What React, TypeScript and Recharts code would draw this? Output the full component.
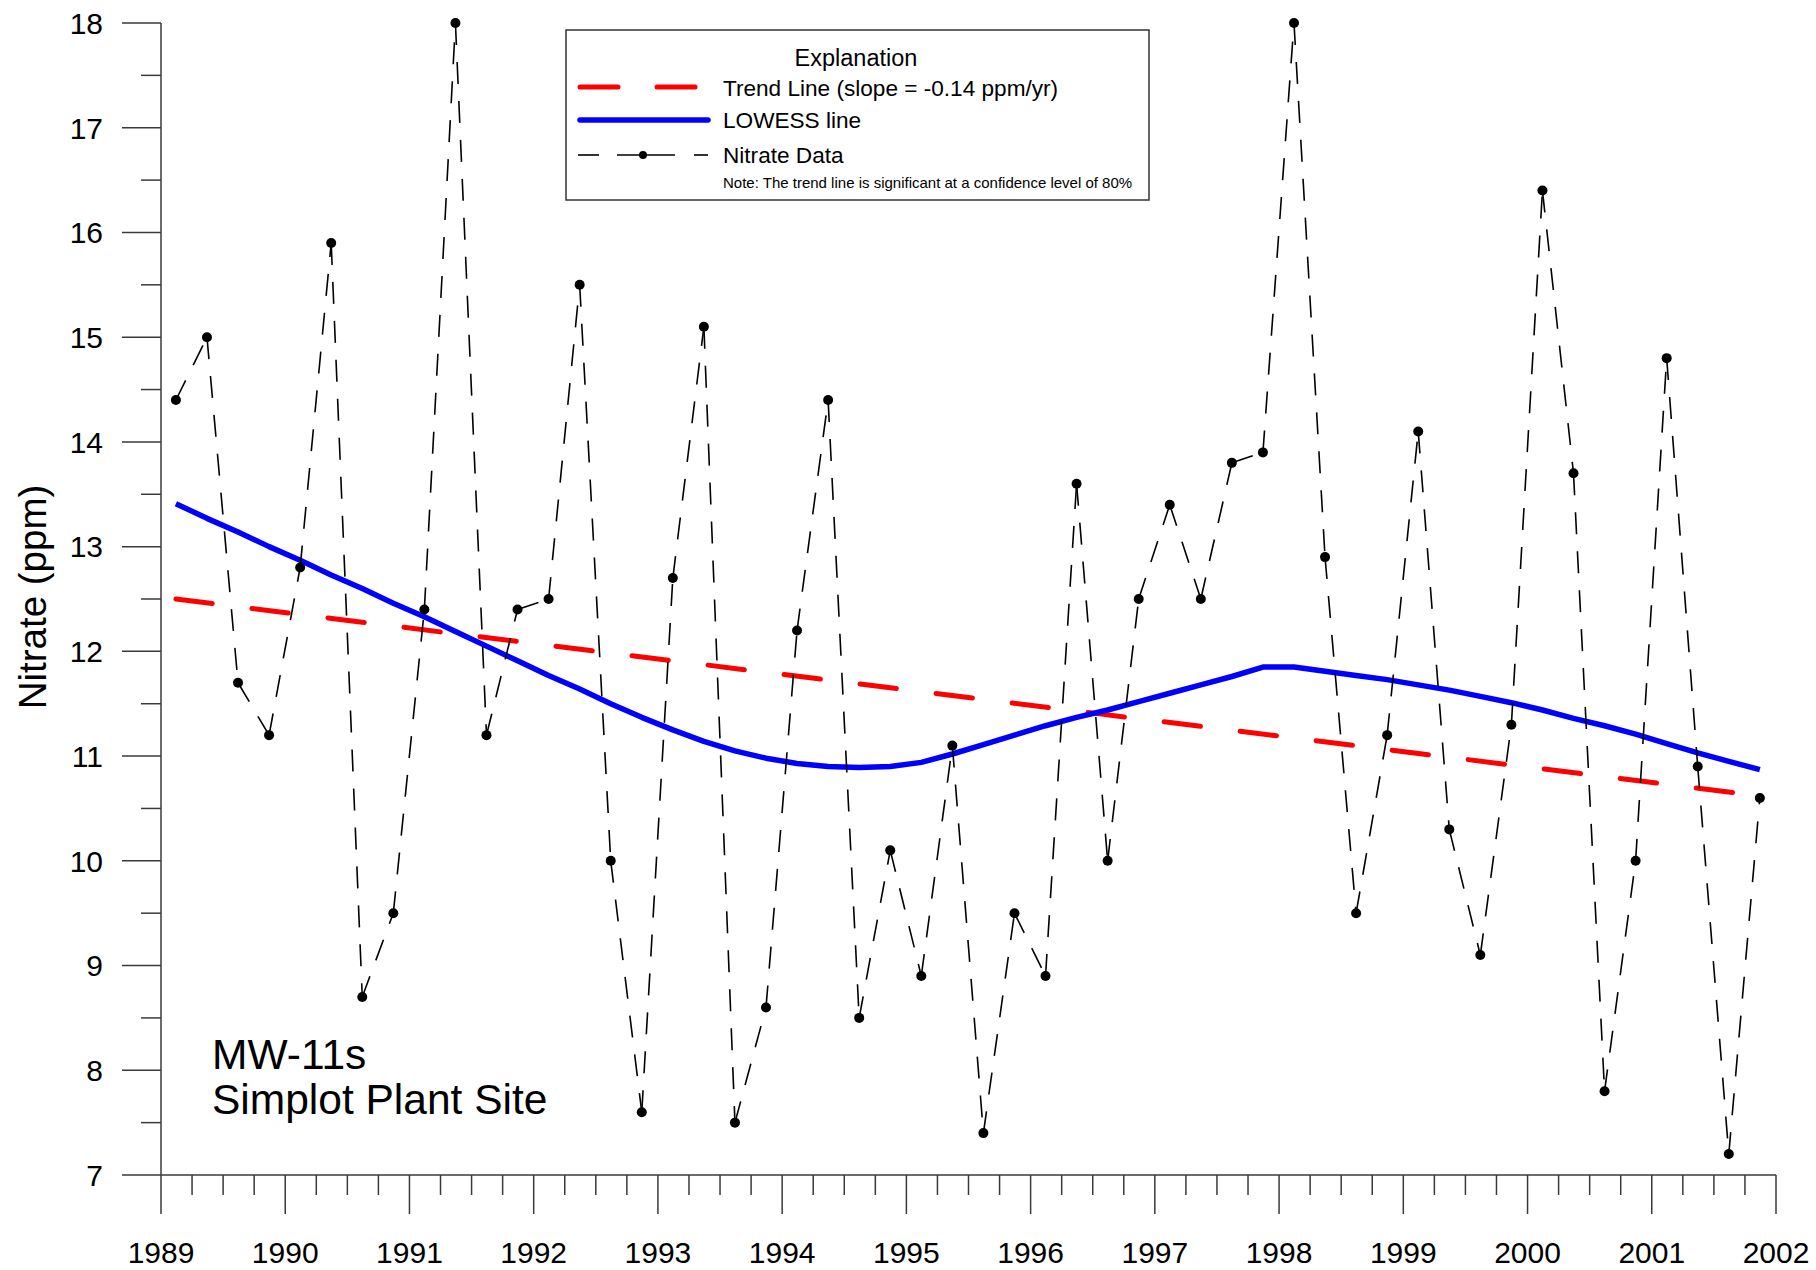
import React from 'react';
import { ComposedChart, Line, XAxis, YAxis } from 'recharts';

// sample dates (decimal years)
const dates = [
  1989.12, 1989.37, 1989.62, 1989.87, 1990.12, 1990.37, 1990.62, 1990.87,
  1991.12, 1991.37, 1991.62, 1991.87, 1992.12, 1992.37, 1992.62, 1992.87,
  1993.12, 1993.37, 1993.62, 1993.87, 1994.12, 1994.37, 1994.62, 1994.87,
  1995.12, 1995.37, 1995.62, 1995.87, 1996.12, 1996.37, 1996.62, 1996.87,
  1997.12, 1997.37, 1997.62, 1997.87, 1998.12, 1998.37, 1998.62, 1998.87,
  1999.12, 1999.37, 1999.62, 1999.87, 2000.12, 2000.37, 2000.62, 2000.87,
  2001.12, 2001.37, 2001.62, 2001.87,
];

const nitrate = [
  14.4, 15.0, 11.7, 11.2, 12.8, 15.9, 8.7, 9.5,
  12.4, 18.0, 11.2, 12.4, 12.5, 15.5, 10.0, 7.6,
  12.7, 15.1, 7.5, 8.6, 12.2, 14.4, 8.5, 10.1,
  8.9, 11.1, 7.4, 9.5, 8.9, 13.6, 10.0, 12.5,
  13.4, 12.5, 13.8, 13.9, 18.0, 12.9, 9.5, 11.2,
  14.1, 10.3, 9.1, 11.3, 16.4, 13.7, 7.8, 10.0,
  14.8, 10.9, 7.2, 10.6,
];

const lowess = [
  13.41, 13.27, 13.14, 13.0, 12.87, 12.73, 12.6, 12.46,
  12.33, 12.19, 12.05, 11.91, 11.77, 11.64, 11.5, 11.37,
  11.25, 11.14, 11.05, 10.98, 10.93, 10.9, 10.89, 10.9,
  10.94, 11.02, 11.11, 11.2, 11.29, 11.37, 11.44, 11.52,
  11.6, 11.68, 11.76, 11.85, 11.85, 11.81, 11.77, 11.73,
  11.68, 11.63, 11.57, 11.51, 11.44, 11.36, 11.29, 11.21,
  11.12, 11.03, 10.95, 10.87,
];

// trend line end values (first and last sample date)
const trendStart = 12.5;
const trendEnd = 10.62;

const yearTicks = [1989, 1990, 1991, 1992, 1993, 1994, 1995, 1996, 1997, 1998, 1999, 2000, 2001, 2002];
const valueTicks = [7, 8, 9, 10, 11, 12, 13, 14, 15, 16, 17, 18];

const FONT = '"Liberation Sans", Arial, Helvetica, sans-serif';
const AXIS = '#3a3a3a';

// each pair of neighbouring samples gets its own key so the dash pattern
// restarts at every data point, like the original plot
const rows = dates.map((x, i) => {
  const row: Record<string, number | null> = {
    x,
    nitrate: nitrate[i],
    lowess: lowess[i],
    trend: i === 0 ? trendStart : i === dates.length - 1 ? trendEnd : null,
  };
  if (i < dates.length - 1) row[`seg${i}`] = nitrate[i];
  if (i > 0) row[`seg${i - 1}`] = nitrate[i];
  return row;
});
const segKeys = dates.slice(1).map((_, i) => `seg${i}`);

const xTicks = yearTicks.flatMap((y) => (y === 2002 ? [y] : [y, y + 0.25, y + 0.5, y + 0.75]));
const yTicks = valueTicks.flatMap((v) => (v === 18 ? [v] : [v, v + 0.5]));

const XTick = (props: any) => {
  const { x, y, payload } = props;
  const major = Number.isInteger(payload.value);
  return (
    <g>
      <line x1={x} x2={x} y1={y} y2={y + (major ? 39 : 20)} stroke={AXIS} strokeWidth={1.5} />
      {major && (
        <text x={x} y={y + 88} textAnchor="middle" fontSize={30} fontFamily={FONT} fill="#000">
          {payload.value}
        </text>
      )}
    </g>
  );
};

const YTick = (props: any) => {
  const { x, y, payload } = props;
  const major = Number.isInteger(payload.value);
  return (
    <g>
      <line x1={x} x2={x - (major ? 39 : 20)} y1={y} y2={y} stroke={AXIS} strokeWidth={1.5} />
      {major && (
        <text x={x - 58} y={y} dy="0.36em" textAnchor="end" fontSize={30} fontFamily={FONT} fill="#000">
          {payload.value}
        </text>
      )}
    </g>
  );
};

const YTitle = (props: any) => {
  const vb = props.viewBox || { x: 0, y: 23, width: 161, height: 1152 };
  const cx = vb.x + 46;
  const cy = vb.y + vb.height / 2 - 2;
  return (
    <text
      transform={`translate(${cx},${cy}) rotate(-90)`}
      textAnchor="middle"
      fontSize={38.5}
      fontFamily={FONT}
      fill="#000"
    >
      Nitrate (ppm)
    </text>
  );
};

const DataDot = (props: any) => {
  const { cx, cy } = props;
  if (cx == null || cy == null) return null;
  return <circle cx={cx} cy={cy} r={5} fill="#000" stroke="none" />;
};

const Overlay = () => (
  <svg
    width={1816}
    height={1270}
    style={{ position: 'absolute', left: 0, top: 0, pointerEvents: 'none' }}
  >
    <text x={212} y={1069} fontSize={42.5} fontFamily={FONT} fill="#000">MW-11s</text>
    <text x={212} y={1114} fontSize={42.5} fontFamily={FONT} fill="#000">Simplot Plant Site</text>

    {/* explanation box */}
    <rect x={566} y={30} width={583} height={170} fill="#fff" stroke="#333" strokeWidth={1.5} />
    <text x={856} y={66} textAnchor="middle" fontSize={23.5} fontFamily={FONT} fill="#000">Explanation</text>

    <line x1={580} x2={618} y1={87} y2={87} stroke="#ff0000" strokeWidth={5} strokeLinecap="round" />
    <line x1={657} x2={695} y1={87} y2={87} stroke="#ff0000" strokeWidth={5} strokeLinecap="round" />
    <text x={723} y={96} fontSize={22.6} fontFamily={FONT} fill="#000">Trend Line (slope = -0.14 ppm/yr)</text>

    <line x1={580} x2={708} y1={120} y2={120} stroke="#0000ff" strokeWidth={5.5} strokeLinecap="round" />
    <text x={723} y={128} fontSize={22.6} fontFamily={FONT} fill="#000">LOWESS line</text>

    <line x1={578} x2={599} y1={155} y2={155} stroke="#000" strokeWidth={1.6} />
    <line x1={617} x2={675} y1={155} y2={155} stroke="#000" strokeWidth={1.6} />
    <circle cx={643} cy={155} r={4} fill="#000" />
    <line x1={694} x2={708} y1={155} y2={155} stroke="#000" strokeWidth={1.6} />
    <text x={723} y={163} fontSize={22.6} fontFamily={FONT} fill="#000">Nitrate Data</text>

    <text x={723} y={188} fontSize={15} fontFamily={FONT} fill="#000">
      Note: The trend line is significant at a confidence level of 80%
    </text>
  </svg>
);

export default function App() {
  return (
    <div style={{ position: 'absolute', left: 0, top: 0, width: 1816, height: 1270, background: '#fff' }}>
      <ComposedChart width={1816} height={1270} data={rows} margin={{ top: 23, right: 40, bottom: 0, left: 0 }}>
        <XAxis
          dataKey="x"
          type="number"
          domain={[1989, 2002]}
          ticks={xTicks}
          interval={0}
          height={95}
          tickSize={0}
          tickMargin={0}
          tickLine={false}
          tick={<XTick />}
          axisLine={{ stroke: AXIS, strokeWidth: 1.5 }}
        />
        <YAxis
          type="number"
          domain={[7, 18]}
          ticks={yTicks}
          interval={0}
          width={161}
          tickSize={0}
          tickMargin={0}
          tickLine={false}
          tick={<YTick />}
          axisLine={{ stroke: AXIS, strokeWidth: 1.5 }}
          label={{ content: (p: any) => <YTitle {...p} /> }}
        />
        <Line
          type="linear"
          dataKey="trend"
          stroke="#ff0000"
          strokeWidth={5}
          strokeDasharray="36.6 40"
          strokeLinecap="round"
          dot={false}
          activeDot={false}
          connectNulls
          isAnimationActive={false}
        />
        <Line
          type="linear"
          dataKey="lowess"
          stroke="#0000ff"
          strokeWidth={5.5}
          strokeLinejoin="round"
          dot={false}
          activeDot={false}
          isAnimationActive={false}
        />
        {segKeys.map((k) => (
          <Line
            key={k}
            type="linear"
            dataKey={k}
            stroke="#000"
            strokeWidth={1.6}
            strokeDasharray="22 17"
            dot={false}
            activeDot={false}
            isAnimationActive={false}
          />
        ))}
        <Line
          type="linear"
          dataKey="nitrate"
          stroke="none"
          dot={<DataDot />}
          activeDot={false}
          isAnimationActive={false}
        />
      </ComposedChart>
      <Overlay />
    </div>
  );
}
